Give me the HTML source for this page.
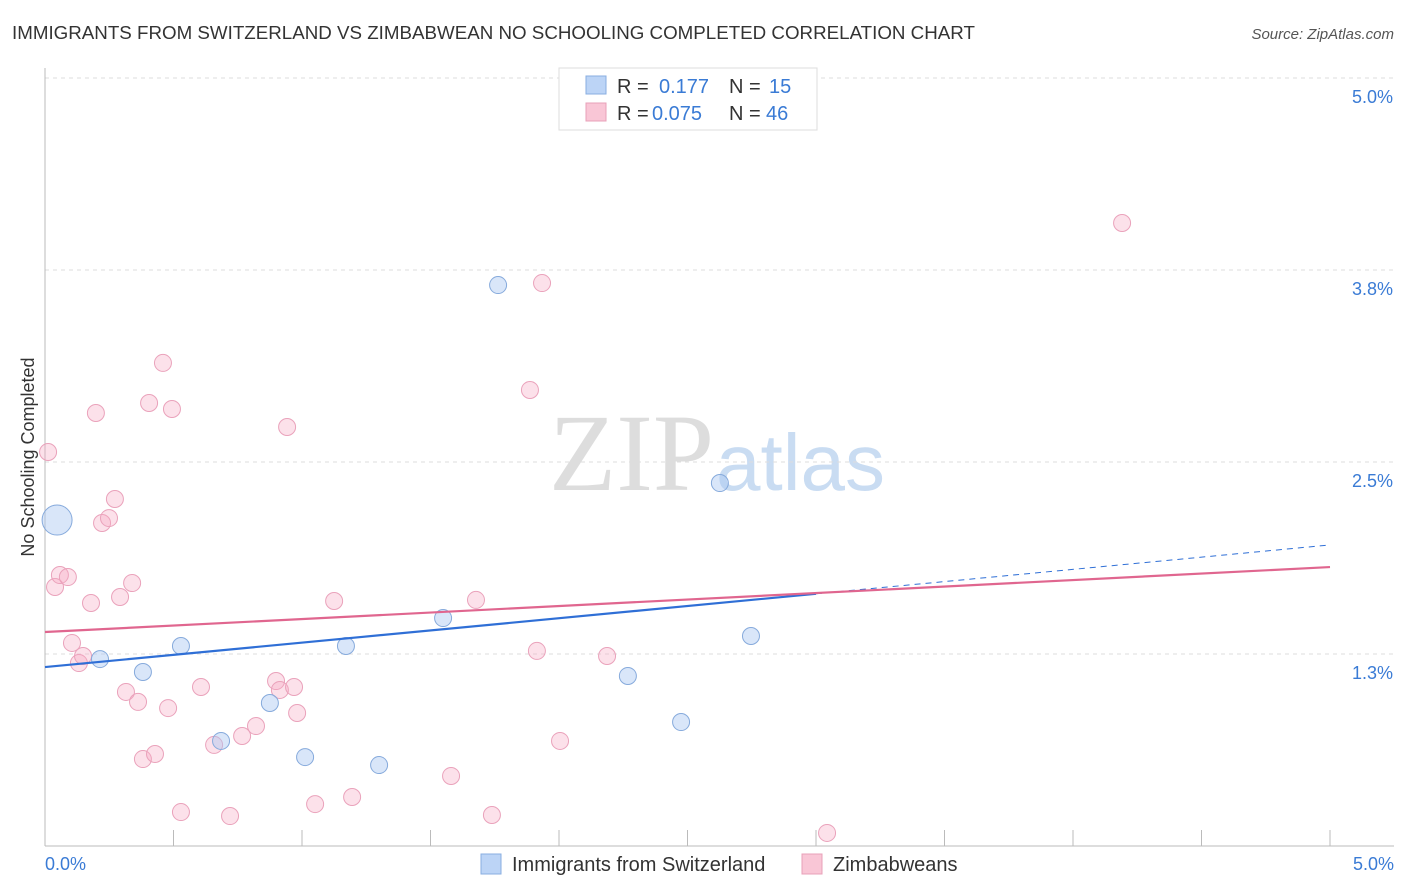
<!DOCTYPE html>
<html><head><meta charset="utf-8"><style>
body{margin:0;background:#fff;font-family:"Liberation Sans",sans-serif}
svg{display:block}
</style></head><body>
<svg width="1406" height="892" viewBox="0 0 1406 892" xmlns="http://www.w3.org/2000/svg">
<text x="12" y="39" font-size="18.75" fill="#333">IMMIGRANTS FROM SWITZERLAND VS ZIMBABWEAN NO SCHOOLING COMPLETED CORRELATION CHART</text>
<text x="1394" y="39" font-size="15" fill="#555" font-style="italic" text-anchor="end">Source: ZipAtlas.com</text>
<text x="714" y="490" font-size="110" fill="#ddd" text-anchor="end" font-family="Liberation Serif,serif">ZIP</text>
<text x="716" y="490" font-size="80" fill="#c9dcf2">atlas</text>
<g id="grid"></g>
<g id="axes"></g>
<g id="marks"></g>
<text x="34" y="457" font-size="18" fill="#333" text-anchor="middle" transform="rotate(-90 34 457)">No Schooling Completed</text>
<g>
<rect x="559" y="68" width="258" height="62" fill="#fff" stroke="#ddd"/>
<rect x="586" y="76" width="20" height="18" fill="#bcd4f6" stroke="#88aee0"/>
<text x="617" y="93" font-size="20" fill="#333">R = <tspan fill="#3a7bd5" x="659">0.177</tspan><tspan x="729" fill="#333">N = </tspan><tspan fill="#3a7bd5" x="769">15</tspan></text>
<rect x="586" y="103" width="20" height="18" fill="#f9c6d6" stroke="#e8a0b8"/>
<text x="617" y="120" font-size="20" fill="#333">R = <tspan fill="#3a7bd5" x="652">0.075</tspan><tspan x="729" fill="#333">N = </tspan><tspan fill="#3a7bd5" x="766">46</tspan></text>
</g>
<g>
<rect x="481" y="854" width="20" height="20" fill="#bcd4f6" stroke="#88aee0"/>
<text x="512" y="871" font-size="20" fill="#333">Immigrants from Switzerland</text>
<rect x="802" y="854" width="20" height="20" fill="#f9c6d6" stroke="#e8a0b8"/>
<text x="833" y="871" font-size="20" fill="#333">Zimbabweans</text>
</g>
</svg>
<script>
const blueX=[0.047,0.214,0.381,0.529,0.685,0.875,1.012,1.171,1.300,1.549,1.763,2.268,2.475,2.626,2.747];
const blueY=[2.122,1.217,1.133,1.302,0.684,0.931,0.579,1.302,0.527,1.484,3.652,1.107,0.807,2.363,1.367];
const blueR=[15,8.5,8.5,8.5,8.5,8.5,8.5,8.5,8.5,8.5,8.5,8.5,8.5,8.5,8.5];
const pinkX=[0.012,0.039,0.058,0.089,0.105,0.132,0.148,0.179,0.198,0.222,0.249,0.272,0.292,0.315,0.339,0.362,0.381,0.405,0.428,0.459,0.479,0.494,0.529,0.607,0.658,0.720,0.767,0.821,0.899,0.914,0.942,0.969,0.981,1.051,1.125,1.195,1.580,1.677,1.739,1.887,1.914,1.934,2.004,2.187,3.043,4.191];
const pinkY=[2.565,1.686,1.764,1.751,1.322,1.191,1.237,1.582,2.819,2.103,2.135,2.259,1.621,1.003,1.712,0.938,0.566,2.884,0.599,3.145,0.898,2.845,0.221,1.035,0.658,0.195,0.716,0.781,1.074,1.016,2.728,1.035,0.866,0.273,1.595,0.319,0.456,1.602,0.202,2.969,1.270,3.665,0.684,1.237,0.085,4.056];
const yTicks=[1.25,2.5,3.75,5.0];
const yTickLabels=["1.3%","2.5%","3.8%","5.0%"];
const blueTrend=[1.165,1.96];
const pinkTrend=[1.393,1.816];
const blueSolidEnd=3.0;
const NS="http://www.w3.org/2000/svg";
const X=v=>45+v*257, Y=v=>846-v*153.6;
function mk(t,a,p){const e=document.createElementNS(NS,t);for(const k in a)e.setAttribute(k,a[k]);document.getElementById(p).appendChild(e);return e;}
yTicks.forEach((t,i)=>{
 const l=mk('line',{x1:45,x2:1394,y1:Y(t),y2:Y(t),stroke:'#ddd','stroke-dasharray':'4,4'},'grid');
 
 
 const tx=mk('text',{x:1393,y:Y(t)+25,'font-size':18,fill:'#3a7bd5','text-anchor':'end'},'grid');
 tx.textContent=yTickLabels[i];
 
 
});
let a=mk('line',{x1:45,x2:45,y1:68,y2:846,stroke:'#bbb'},'axes');


a=mk('line',{x1:45,x2:1394,y1:846,y2:846,stroke:'#bbb'},'axes');


for(let i=1;i<=10;i++){const t=mk('line',{x1:X(i*0.5),x2:X(i*0.5),y1:830,y2:846,stroke:'#bbb'},'axes');
 
 }
[["0.0%",45,"start"],["5.0%",1394,"end"]].forEach(d=>{const t=mk('text',{x:d[1],y:870,'font-size':18,fill:'#3a7bd5','text-anchor':d[2]},'axes');t.textContent=d[0];
 
 });
pinkX.forEach((x,i)=>{const c=mk('circle',{cx:X(x),cy:Y(pinkY[i]),r:8.5,fill:'rgba(246,170,196,0.35)',stroke:'#eaa2bb','stroke-width':1},'marks');
 
 });
blueX.forEach((x,i)=>{const c=mk('circle',{cx:X(x),cy:Y(blueY[i]),r:blueR[i],fill:'rgba(170,200,242,0.45)',stroke:'#86aadc','stroke-width':1},'marks');
 
 });
const bt=v=>blueTrend[0]+(blueTrend[1]-blueTrend[0])*v/5, pt=v=>pinkTrend[0]+(pinkTrend[1]-pinkTrend[0])*v/5;
let l=mk('line',{x1:X(0),y1:Y(bt(0)),x2:X(blueSolidEnd),y2:Y(bt(blueSolidEnd)),stroke:'#2f6fd6','stroke-width':2.2},'marks');


l=mk('line',{x1:X(blueSolidEnd),y1:Y(bt(blueSolidEnd)),x2:X(5),y2:Y(bt(5)),stroke:'#2f6fd6','stroke-width':1,'stroke-dasharray':'6,5'},'marks');


l=mk('line',{x1:X(0),y1:Y(pt(0)),x2:X(5),y2:Y(pt(5)),stroke:'#e0668f','stroke-width':2.2},'marks');


</script>
</body></html>
